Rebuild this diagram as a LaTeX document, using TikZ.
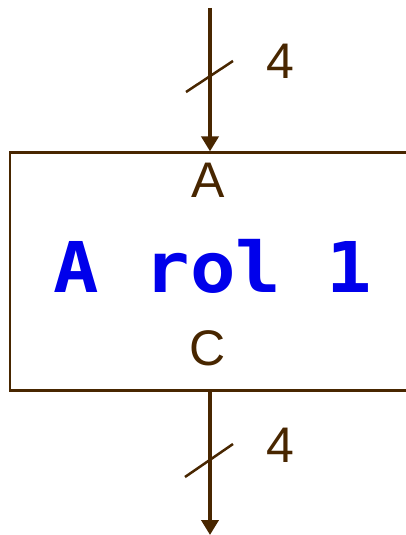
\documentclass[tikz,border=0pt]{standalone}
\usepackage{fontspec}
\setmainfont{Liberation Sans}
\setmonofont{DejaVu Sans Mono}
\usetikzlibrary{arrows.meta}
\definecolor{wire}{RGB}{72,38,0}
\definecolor{codeblue}{RGB}{0,0,235}
\tikzset{
  bus/.style={draw=wire, line width=4pt, -{Triangle[length=15pt,width=17pt]}},
  slash/.style={draw=wire, line width=2.5pt},
  blockbox/.style={draw=wire, line width=2.2pt, minimum width=400pt, minimum height=238pt, inner sep=0pt},
  portlabel/.style={text=wire, font=\fontsize{50pt}{60pt}\selectfont, inner sep=0pt, anchor=base},
  oplabel/.style={text=codeblue, font=\fontsize{70pt}{80pt}\selectfont\ttfamily\bfseries, inner sep=0pt, anchor=base}
}
\begin{document}
\begin{tikzpicture}[x=1pt,y=-1pt]
\useasboundingbox (0,0) rectangle (406,535);
\clip (0,0) rectangle (406,535);
\node[blockbox] (box) at (210,271.5) {};
\coordinate (in) at (210,8);
\coordinate (out) at (210,535);
\draw[bus] (in) -- (box.north);
\draw[bus] (box.south) -- (out);
\coordinate (s1a) at (186,92);
\coordinate (s1b) at (233,61);
\coordinate (s2a) at (185,477);
\coordinate (s2b) at (233,444);
\draw[slash] (s1a) -- (s1b);
\draw[slash] (s2a) -- (s2b);
\node[portlabel] (wa) at (280,78) {4};
\node[portlabel] (wc) at (280,462) {4};
\node[portlabel] (pa) at (208,197) {A};
\node[portlabel] (pc) at (208,365) {C};
\node[oplabel] (op) at (213,292) {\scalebox{1.08}[1]{A rol 1}};
\end{tikzpicture}
\end{document}
